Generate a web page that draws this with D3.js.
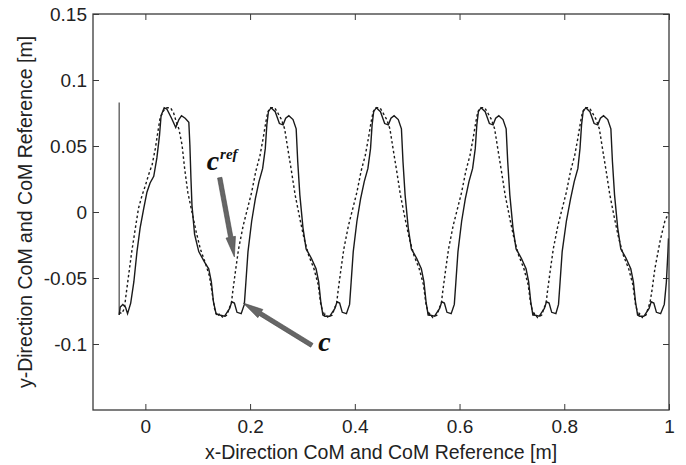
<!DOCTYPE html>
<html>
<head>
<meta charset="utf-8">
<script src="https://cdn.jsdelivr.net/npm/d3@7"></script>
<style>
    body { margin: 0; background: #fff; }
    text { font-family: "Liberation Sans", Arial, sans-serif; }
</style>
</head>
<body>
<script>
// ticks
var xTicks = [0, 0.2, 0.4, 0.6, 0.8, 1];
var xTickLabels = ["0", "0.2", "0.4", "0.6", "0.8", "1"];
var yTicks = [-0.1, -0.05, 0, 0.05, 0.1, 0.15];
var yTickLabels = ["-0.1", "-0.05", "0", "0.05", "0.1", "0.15"];

// c : actual CoM (solid), [x, y] in m
var cPath = [
    [-0.050, 0.083], [-0.050, -0.078],
    [-0.048, -0.072], [-0.043, -0.070], [-0.038, -0.072], [-0.034, -0.077], [-0.028, -0.069], [-0.022, -0.053],
    [-0.016, -0.030], [-0.010, -0.012], [-0.003, 0.003], [0.003, 0.015], [0.009, 0.022], [0.016, 0.027],
    [0.022, 0.041], [0.027, 0.058], [0.030, 0.073], [0.036, 0.079], [0.041, 0.078], [0.050, 0.071],
    [0.058, 0.064], [0.064, 0.070], [0.069, 0.073], [0.076, 0.071], [0.083, 0.068], [0.085, 0.051],
    [0.087, 0.026], [0.089, 0.005], [0.094, -0.017], [0.102, -0.030], [0.113, -0.038], [0.121, -0.043],
    [0.126, -0.053], [0.130, -0.068], [0.135, -0.077],
    [0.142, -0.078], [0.151, -0.079], [0.161, -0.073], [0.165, -0.068], [0.170, -0.069], [0.175, -0.076],
    [0.183, -0.077], [0.189, -0.070], [0.192, -0.053], [0.196, -0.030], [0.203, -0.007], [0.210, 0.010],
    [0.217, 0.023], [0.224, 0.033], [0.229, 0.048], [0.232, 0.066], [0.235, 0.076], [0.240, 0.079],
    [0.248, 0.076], [0.256, 0.067], [0.263, 0.066], [0.268, 0.071], [0.274, 0.073], [0.282, 0.070],
    [0.288, 0.063], [0.291, 0.038], [0.295, 0.013], [0.301, -0.012], [0.307, -0.028], [0.317, -0.035],
    [0.326, -0.043], [0.331, -0.053], [0.335, -0.068], [0.339, -0.078],
    [0.343, -0.079], [0.352, -0.079], [0.362, -0.073], [0.366, -0.068], [0.371, -0.069], [0.376, -0.076],
    [0.384, -0.077], [0.390, -0.070], [0.393, -0.053], [0.397, -0.030], [0.404, -0.007], [0.411, 0.010],
    [0.418, 0.023], [0.425, 0.033], [0.430, 0.048], [0.433, 0.066], [0.436, 0.076], [0.441, 0.079],
    [0.449, 0.076], [0.457, 0.067], [0.464, 0.066], [0.469, 0.071], [0.475, 0.073], [0.483, 0.070],
    [0.489, 0.063], [0.492, 0.038], [0.496, 0.013], [0.502, -0.012], [0.508, -0.028], [0.518, -0.035],
    [0.527, -0.043], [0.532, -0.053], [0.536, -0.068], [0.540, -0.078],
    [0.543, -0.078], [0.552, -0.079], [0.562, -0.073], [0.566, -0.068], [0.571, -0.069], [0.576, -0.076],
    [0.584, -0.077], [0.590, -0.070], [0.593, -0.053], [0.597, -0.030], [0.604, -0.007], [0.611, 0.010],
    [0.618, 0.023], [0.625, 0.033], [0.630, 0.048], [0.633, 0.066], [0.636, 0.076], [0.641, 0.079],
    [0.649, 0.076], [0.657, 0.067], [0.664, 0.066], [0.669, 0.071], [0.675, 0.073], [0.683, 0.070],
    [0.689, 0.063], [0.692, 0.038], [0.696, 0.013], [0.702, -0.012], [0.708, -0.028], [0.718, -0.035],
    [0.727, -0.043], [0.732, -0.053], [0.736, -0.068], [0.740, -0.078],
    [0.743, -0.078], [0.752, -0.079], [0.762, -0.073], [0.766, -0.068], [0.771, -0.069], [0.776, -0.076],
    [0.784, -0.077], [0.789, -0.070], [0.792, -0.053], [0.796, -0.030], [0.804, -0.007], [0.812, 0.010],
    [0.819, 0.023], [0.826, 0.033], [0.830, 0.048], [0.833, 0.066], [0.836, 0.076], [0.841, 0.079],
    [0.849, 0.076], [0.857, 0.067], [0.864, 0.066], [0.869, 0.071], [0.875, 0.073], [0.883, 0.070],
    [0.889, 0.063], [0.892, 0.038], [0.896, 0.013], [0.902, -0.012], [0.908, -0.028], [0.918, -0.035],
    [0.927, -0.043], [0.932, -0.053], [0.936, -0.068], [0.940, -0.078],
    [0.944, -0.079], [0.952, -0.079], [0.962, -0.073], [0.966, -0.068], [0.971, -0.069], [0.976, -0.076],
    [0.984, -0.077], [0.991, -0.070], [0.995, -0.053], [0.998, -0.030], [0.999, -0.020]
];

// c_ref : CoM reference (dashed)
var cRefPath = [
    [-0.050, -0.076], [-0.045, -0.077], [-0.040, -0.073], [-0.037, -0.063], [-0.032, -0.048], [-0.026, -0.030],
    [-0.019, -0.012], [-0.013, 0.003], [-0.006, 0.013], [0.000, 0.020], [0.006, 0.028], [0.013, 0.036],
    [0.019, 0.048], [0.024, 0.061], [0.028, 0.071], [0.035, 0.077], [0.041, 0.079], [0.048, 0.079],
    [0.054, 0.075], [0.060, 0.067], [0.064, 0.063], [0.070, 0.051], [0.075, 0.033], [0.081, 0.015],
    [0.089, 0.000], [0.097, -0.015], [0.105, -0.028], [0.114, -0.038], [0.122, -0.048], [0.127, -0.060],
    [0.132, -0.073], [0.137, -0.079],
    [0.142, -0.077], [0.148, -0.080], [0.156, -0.078], [0.161, -0.072], [0.164, -0.070], [0.167, -0.060],
    [0.172, -0.045], [0.178, -0.028], [0.187, -0.010], [0.196, 0.004], [0.203, 0.015], [0.211, 0.031],
    [0.219, 0.043], [0.225, 0.056], [0.230, 0.068], [0.234, 0.076], [0.239, 0.079], [0.247, 0.079],
    [0.253, 0.075], [0.260, 0.070], [0.266, 0.063], [0.272, 0.048], [0.279, 0.031], [0.286, 0.013],
    [0.295, -0.005], [0.303, -0.020], [0.312, -0.033], [0.322, -0.043], [0.330, -0.055], [0.335, -0.070],
    [0.341, -0.079],
    [0.343, -0.077], [0.349, -0.080], [0.357, -0.078], [0.362, -0.072], [0.365, -0.070], [0.368, -0.060],
    [0.373, -0.045], [0.379, -0.028], [0.388, -0.010], [0.397, 0.004], [0.404, 0.015], [0.412, 0.031],
    [0.420, 0.043], [0.426, 0.056], [0.431, 0.068], [0.435, 0.076], [0.440, 0.079], [0.448, 0.079],
    [0.454, 0.075], [0.461, 0.070], [0.467, 0.063], [0.473, 0.048], [0.480, 0.031], [0.487, 0.013],
    [0.496, -0.005], [0.504, -0.020], [0.513, -0.033], [0.523, -0.043], [0.531, -0.055], [0.536, -0.070],
    [0.542, -0.079],
    [0.543, -0.077], [0.549, -0.080], [0.557, -0.078], [0.562, -0.072], [0.565, -0.070], [0.568, -0.060],
    [0.573, -0.045], [0.579, -0.028], [0.588, -0.010], [0.597, 0.004], [0.604, 0.015], [0.612, 0.031],
    [0.620, 0.043], [0.626, 0.056], [0.631, 0.068], [0.635, 0.076], [0.640, 0.079], [0.648, 0.079],
    [0.654, 0.075], [0.661, 0.070], [0.667, 0.063], [0.673, 0.048], [0.680, 0.031], [0.687, 0.013],
    [0.696, -0.005], [0.704, -0.020], [0.713, -0.033], [0.723, -0.043], [0.731, -0.055], [0.736, -0.070],
    [0.742, -0.079],
    [0.743, -0.077], [0.749, -0.080], [0.757, -0.078], [0.762, -0.072], [0.765, -0.070], [0.768, -0.060],
    [0.773, -0.045], [0.779, -0.028], [0.788, -0.010], [0.797, 0.004], [0.804, 0.015], [0.812, 0.031],
    [0.820, 0.043], [0.826, 0.056], [0.831, 0.068], [0.835, 0.076], [0.840, 0.079], [0.848, 0.079],
    [0.854, 0.075], [0.861, 0.070], [0.867, 0.063], [0.873, 0.048], [0.880, 0.031], [0.887, 0.013],
    [0.896, -0.005], [0.904, -0.020], [0.913, -0.033], [0.923, -0.043], [0.931, -0.055], [0.936, -0.070],
    [0.942, -0.079],
    [0.944, -0.077], [0.949, -0.080], [0.956, -0.078], [0.961, -0.072], [0.964, -0.068], [0.968, -0.058],
    [0.973, -0.043], [0.983, -0.022], [0.992, -0.007], [0.999, -0.001]
];

// annotation anchors (data units): [tailX, tailY, tipX, tipY]
var cRefArrow = [0.142, 0.026, 0.170, -0.034];
var cArrow = [0.318, -0.101, 0.187, -0.069];
var cRefLabelPos = [0.117, 0.032];
var cLabelPos = [0.330, -0.105];

var svg_width = 686;
var svg_height = 465;
var margin = {top: 14, right: 17, bottom: 55, left: 93};
var plotW = svg_width - margin.left - margin.right;
var plotH = svg_height - margin.top - margin.bottom;

var svg = d3.select("body")
    .append("svg")
    .attr("width", svg_width)
    .attr("height", svg_height);

var x = d3.scaleLinear().domain([-0.1, 1]).range([margin.left, margin.left + plotW]);
var y = d3.scaleLinear().domain([-0.15, 0.15]).range([margin.top + plotH, margin.top]);

svg.append("defs").append("clipPath").attr("id", "plotclip")
    .append("rect")
    .attr("x", margin.left).attr("y", margin.top)
    .attr("width", plotW).attr("height", plotH);

// axes, ticks pointing inward on all four sides
var axisColor = "#3a3a3a";
function styleAxis(g) {
    g.select(".domain").remove();
    g.selectAll(".tick line").attr("stroke", axisColor);
    g.selectAll(".tick text").attr("fill", "#222").style("font-size", "19px");
}
svg.append("g")
    .attr("transform", "translate(0," + (margin.top + plotH) + ")")
    .call(d3.axisBottom(x).tickValues(xTicks).tickSize(-6).tickPadding(10)
        .tickFormat(function (d, i) { return xTickLabels[i]; }))
    .call(styleAxis);
svg.append("g")
    .attr("transform", "translate(0," + margin.top + ")")
    .call(d3.axisTop(x).tickValues(xTicks).tickSize(-6).tickFormat(""))
    .call(styleAxis);
svg.append("g")
    .attr("transform", "translate(" + margin.left + ",0)")
    .call(d3.axisLeft(y).tickValues(yTicks).tickSize(-6).tickPadding(6)
        .tickFormat(function (d, i) { return yTickLabels[i]; }))
    .call(styleAxis);
svg.append("g")
    .attr("transform", "translate(" + (margin.left + plotW) + ",0)")
    .call(d3.axisRight(y).tickValues(yTicks).tickSize(-6).tickFormat(""))
    .call(styleAxis);

// lines
var line = d3.line()
    .x(function (d) { return x(d[0]); })
    .y(function (d) { return y(d[1]); });

var plot = svg.append("g").attr("clip-path", "url(#plotclip)");
plot.append("path")
    .attr("d", line(cRefPath))
    .attr("fill", "none")
    .attr("stroke", "#1a1a1a")
    .attr("stroke-width", 1.4)
    .attr("stroke-dasharray", "2.5,2.5");
// first (vertical) piece of c is drawn lighter, like in the figure
plot.append("path")
    .attr("d", line(cPath.slice(0, 2)))
    .attr("fill", "none")
    .attr("stroke", "#555")
    .attr("stroke-width", 1.3);
plot.append("path")
    .attr("d", line(cPath.slice(1)))
    .attr("fill", "none")
    .attr("stroke", "#1a1a1a")
    .attr("stroke-width", 1.4);

// box
svg.append("rect")
    .attr("x", margin.left).attr("y", margin.top)
    .attr("width", plotW).attr("height", plotH)
    .attr("fill", "none")
    .attr("stroke", axisColor)
    .attr("stroke-width", 1.3);

// arrows (gray, thick shaft + narrow head)
function arrow(a) {
    var x0 = x(a[0]), y0 = y(a[1]), x1 = x(a[2]), y1 = y(a[3]);
    var dx = x1 - x0, dy = y1 - y0, len = Math.sqrt(dx * dx + dy * dy);
    var ux = dx / len, uy = dy / len, nx = -uy, ny = ux;
    var sw = 2.2, hw = 4.8, hl = 20;
    var bx = x1 - ux * hl, by = y1 - uy * hl;
    var pts = [
        [x0 + nx * sw, y0 + ny * sw], [bx + nx * sw, by + ny * sw], [bx + nx * hw, by + ny * hw],
        [x1, y1],
        [bx - nx * hw, by - ny * hw], [bx - nx * sw, by - ny * sw], [x0 - nx * sw, y0 - ny * sw]
    ];
    svg.append("polygon")
        .attr("points", pts.map(function (p) { return p.join(","); }).join(" "))
        .attr("fill", "#666")
        .attr("stroke", "#444")
        .attr("stroke-width", 0.6);
}
arrow(cRefArrow);
arrow(cArrow);

// labels c^ref and c
var serif = "'Liberation Serif', 'Times New Roman', serif";
var refLabel = svg.append("text")
    .attr("x", x(cRefLabelPos[0]))
    .attr("y", y(cRefLabelPos[1]))
    .style("font-family", serif)
    .style("font-style", "italic")
    .style("font-weight", "bold")
    .style("font-size", "28px")
    .attr("fill", "#111");
refLabel.append("tspan").text("c");
refLabel.append("tspan")
    .attr("dy", -11)
    .attr("dx", 1)
    .style("font-size", "15px")
    .text("ref");

svg.append("text")
    .attr("x", x(cLabelPos[0]))
    .attr("y", y(cLabelPos[1]))
    .style("font-family", serif)
    .style("font-style", "italic")
    .style("font-weight", "bold")
    .style("font-size", "28px")
    .attr("fill", "#111")
    .text("c");

// axis titles
svg.append("text")
    .attr("x", margin.left + plotW / 2)
    .attr("y", 459)
    .attr("text-anchor", "middle")
    .style("font-size", "19.5px")
    .attr("fill", "#222")
    .text("x-Direction CoM and CoM Reference [m]");
svg.append("text")
    .attr("transform", "translate(" + 32 + "," + (margin.top + plotH / 2) + ") rotate(-90)")
    .attr("text-anchor", "middle")
    .style("font-size", "19.5px")
    .attr("fill", "#222")
    .text("y-Direction CoM and CoM Reference [m]");
</script>
</body>
</html>
